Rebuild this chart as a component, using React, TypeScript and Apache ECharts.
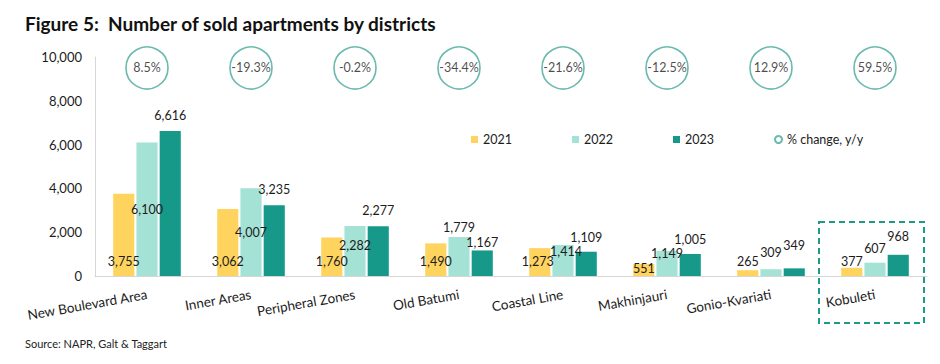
import React, { useEffect, useRef } from "react";
import * as echarts from "echarts";

const categories = [
  "New Boulevard Area",
  "Inner Areas",
  "Peripheral Zones",
  "Old Batumi",
  "Coastal Line",
  "Makhinjauri",
  "Gonio-Kvariati",
  "Kobuleti",
];
const sales2021 = [3755, 3062, 1760, 1490, 1273, 551, 265, 377];
const sales2022 = [6100, 4007, 2282, 1779, 1414, 1149, 309, 607];
const sales2023 = [6616, 3235, 2277, 1167, 1109, 1005, 349, 968];
const changeYoY = [8.5, -19.3, -0.2, -34.4, -21.6, -12.5, 12.9, 59.5];
const seriesNames = ["2021", "2022", "2023", "% change, y/y"];
const yMin = 0;
const yMax = 10000;
const yInterval = 2000;

// styling / placement (not data)
const CIRCLE_LEVEL = 9500;
const COLORS = ["#FFD45E", "#A3E2D5", "#17998A"];
const CIRCLE_COLOR = "#45A999";
const TEXT = "#1c1c1c";
const FONT = "Lato";
const dist21 = [8, 8, 8, 8, 8, 1, 8, 8];
const offX21 = [0, 0, 0, 0, -2, 0, 0, 0];
const pos22 = ["inside", "inside", "inside", "top", "insideTop", "insideTop", "top", "top"];
const dist22 = [5, 5, 5, 3, 0, -4, 10, 8];
const offX22 = [0, 0, 0, 0, 3, 0, 0, 0];
const offY22 = [0, 0, -6, 0, 0, 0, 0, 0];
const dist23 = [9, 9, 9, 1, 8, 8, 16, 12];

const fmt = (v: number) => v.toLocaleString("en-US");

export default function App() {
  const ref = useRef<HTMLDivElement>(null);
  useEffect(() => {
    if (!ref.current) return;
    const chart = echarts.init(ref.current, null, { renderer: "svg" });
    const labelBase = {
      show: true,
      color: TEXT,
      fontFamily: FONT,
      fontSize: 12.5,
      formatter: (p: any) => fmt(p.value),
    };
    const option: any = {
      animation: false,
      backgroundColor: "#ffffff",
      textStyle: { fontFamily: FONT },
      title: [
        {
          text: "Figure 5:  Number of sold apartments by districts",
          left: 20,
          top: 9,
          textStyle: { fontFamily: FONT, fontWeight: "bold", fontSize: 19, color: "#111" },
        },
        {
          text: "Source: NAPR, Galt & Taggart",
          left: 20,
          top: 333,
          textStyle: { fontFamily: FONT, fontWeight: "normal", fontSize: 11, color: "#222" },
        },
      ],
      legend: {
        left: 466,
        top: 128,
        itemWidth: 7,
        itemHeight: 7,
        itemGap: 60,
        textStyle: { fontFamily: FONT, fontSize: 12.5, color: TEXT },
        data: [
          { name: seriesNames[0], icon: "rect" },
          { name: seriesNames[1], icon: "rect" },
          { name: seriesNames[2], icon: "rect" },
          { name: seriesNames[3], icon: "circle" },
        ],
      },
      grid: { left: 95, right: 13, top: 57, bottom: 88, containLabel: false },
      xAxis: {
        type: "category",
        data: categories,
        axisLine: { show: true, lineStyle: { color: "#d6d6d6", width: 1 } },
        axisTick: { show: false },
        axisLabel: {
          rotate: 10,
          margin: 18,
          interval: 0,
          color: TEXT,
          fontFamily: FONT,
          fontSize: 13.5,
        },
      },
      yAxis: {
        type: "value",
        min: yMin,
        max: yMax,
        interval: yInterval,
        axisLine: { show: true, lineStyle: { color: "#d6d6d6", width: 1 } },
        axisTick: { show: false },
        splitLine: { show: false },
        axisLabel: {
          margin: 13,
          color: TEXT,
          fontFamily: FONT,
          fontSize: 13,
          formatter: (v: number) => fmt(v),
        },
      },
      series: [
        {
          name: seriesNames[0],
          type: "bar",
          barCategoryGap: "35%",
          barGap: "10%",
          itemStyle: { color: COLORS[0] },
          label: { ...labelBase, position: "insideBottom" },
          data: sales2021.map((v, i) => ({
            value: v,
            label: { distance: dist21[i], offset: [offX21[i], 0] },
          })),
        },
        {
          name: seriesNames[1],
          type: "bar",
          barCategoryGap: "35%",
          barGap: "10%",
          itemStyle: { color: COLORS[1] },
          label: { ...labelBase },
          data: sales2022.map((v, i) => ({
            value: v,
            label: { position: pos22[i], distance: dist22[i], offset: [offX22[i], offY22[i]] },
          })),
        },
        {
          name: seriesNames[2],
          type: "bar",
          barCategoryGap: "35%",
          barGap: "10%",
          itemStyle: { color: COLORS[2] },
          label: { ...labelBase, position: "top" },
          data: sales2023.map((v, i) => ({ value: v, label: { distance: dist23[i] } })),
        },
        {
          name: seriesNames[3],
          type: "scatter",
          symbol: "circle",
          symbolSize: 42,
          itemStyle: { color: "rgba(255,255,255,0)", borderColor: CIRCLE_COLOR, borderWidth: 1.6 },
          label: {
            show: true,
            position: "inside",
            color: TEXT,
            fontFamily: FONT,
            fontSize: 12.5,
            formatter: (p: any) => `${p.value[2].toFixed(1)}%`,
          },
          data: changeYoY.map((c, i) => [categories[i], CIRCLE_LEVEL, c]),
        },
      ],
    };
    chart.setOption(option);
    const cx = chart.convertToPixel({ xAxisIndex: 0 }, categories[categories.length - 1]) as number;
    const y0 = chart.convertToPixel({ yAxisIndex: 0 }, 0) as number;
    chart.setOption({
      graphic: [
        {
          type: "rect",
          shape: { x: cx - 56, y: y0 - 54, width: 105, height: 101 },
          style: { fill: "none", stroke: "#1E9B86", lineWidth: 2, lineDash: [6, 4] },
          z: 10,
        },
      ],
    });
    return () => chart.dispose();
  }, []);
  return (
    <div
      ref={ref}
      style={{ position: "fixed", left: 0, top: 0, width: 940, height: 364, background: "#fff" }}
    />
  );
}
